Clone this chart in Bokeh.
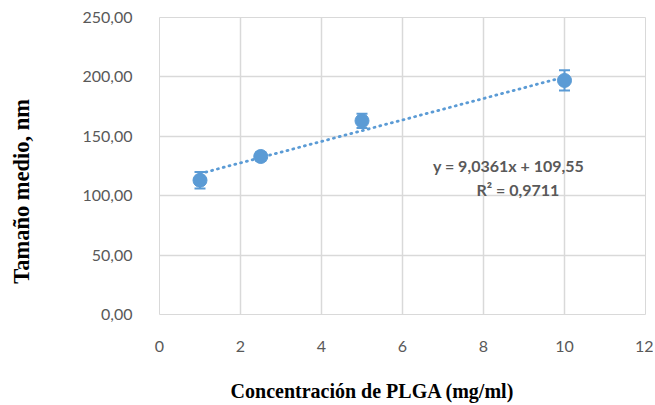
from bokeh.plotting import figure
from bokeh.models import ColumnDataSource, FixedTicker, Whisker, TeeHead
from bokeh.core.properties import value
from bokeh.embed import file_html
from bokeh.resources import INLINE

# Data
conc = [1.0, 2.5, 5.0, 10.0]
size_nm = [113.0, 133.0, 163.0, 197.0]
err = [7.0, 3.5, 6.0, 8.5]
slope = 9.0361
intercept = 109.55
eq_text = ["y = 9,0361x + 109,55", "R² = 0,9711"]
x_ticks = [0, 2, 4, 6, 8, 10, 12]
y_ticks = [0, 50, 100, 150, 200, 250]
y_tick_labels = ["0,00", "50,00", "100,00", "150,00", "200,00", "250,00"]
x_title = "Concentración de PLGA (mg/ml)"
y_title = "Tamaño medio, nm"

BLUE = "#5B9BD5"
GRAY = "#595959"
GRID = "#D9D9D9"
NBSP = "\u00a0"

p = figure(width=653, height=400, output_backend="svg", toolbar_location=None,
           x_range=(0, 12), y_range=(0, 250),
           min_border_left=159, min_border_right=8, min_border_top=17, min_border_bottom=86)
p.frame_width = 486
p.frame_height = 297

p.outline_line_color = GRID
p.outline_line_width = 1
p.background_fill_color = "white"
p.border_fill_color = "white"

for ax in (p.xaxis[0], p.yaxis[0]):
    ax.axis_line_color = None
    ax.major_tick_line_color = None
    ax.minor_tick_line_color = None
    ax.major_label_text_font = "Lato"
    ax.major_label_text_font_size = "16px"
    ax.major_label_text_color = GRAY
    ax.axis_label_text_font = "Liberation Serif"
    ax.axis_label_text_font_style = "bold"
    ax.axis_label_text_color = "black"

p.xaxis.ticker = FixedTicker(ticks=x_ticks)
p.yaxis.ticker = FixedTicker(ticks=y_ticks)
p.yaxis.major_label_overrides = {t: l for t, l in zip(y_ticks, y_tick_labels)}
p.xaxis.major_label_standoff = 20
p.yaxis.major_label_standoff = 21

# titles: trailing no-break spaces shift the visible text off-centre like the original
p.xaxis.axis_label = x_title + NBSP * 12
p.yaxis.axis_label = y_title + NBSP * 9
p.xaxis.axis_label_text_font_size = "20px"
p.yaxis.axis_label_text_font_size = "22.5px"
p.xaxis.axis_label_standoff = 25
p.yaxis.axis_label_standoff = 45

p.xgrid.ticker = FixedTicker(ticks=x_ticks)
p.ygrid.ticker = FixedTicker(ticks=y_ticks)
p.xgrid.grid_line_color = GRID
p.ygrid.grid_line_color = GRID
p.xgrid.grid_line_width = 1.5
p.ygrid.grid_line_width = 1.5

# trend line
tx = [min(conc), max(conc)]
ty = [slope * v + intercept for v in tx]
p.line(tx, ty, line_color=BLUE, line_width=2.8, line_dash="1 5", line_cap="round")

src = ColumnDataSource(dict(x=conc, y=size_nm,
                            lo=[a - b for a, b in zip(size_nm, err)],
                            hi=[a + b for a, b in zip(size_nm, err)]))
w = Whisker(base="x", upper="hi", lower="lo", source=src,
            line_color=BLUE, line_width=2,
            upper_head=TeeHead(size=11, line_color=BLUE, line_width=2),
            lower_head=TeeHead(size=11, line_color=BLUE, line_width=2))
p.add_layout(w)
p.scatter("x", "y", source=src, size=14, fill_color=BLUE, line_color=BLUE)

p.text(x=[8.62, 8.85], y=[125.5, 105.5], text=eq_text,
       text_font=value("Lato"), text_font_style="bold", text_font_size="16px",
       text_color=GRAY, text_align="center", text_baseline="middle")

open("out.html", "w").write(file_html(p, INLINE))
